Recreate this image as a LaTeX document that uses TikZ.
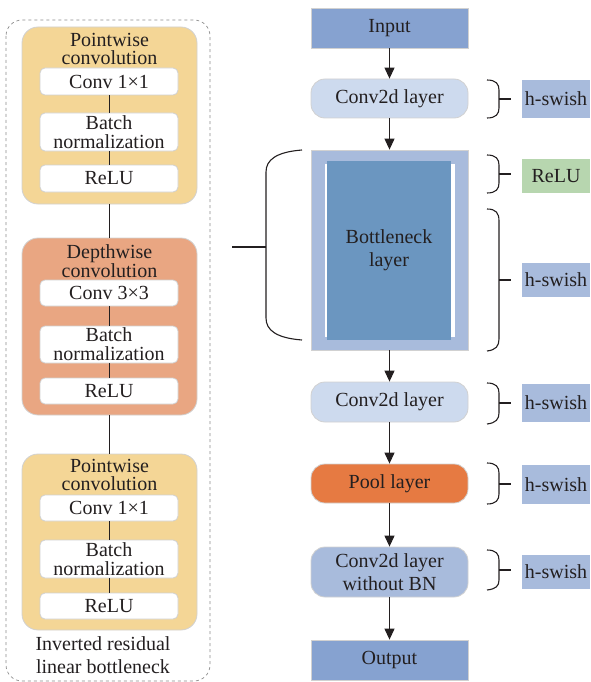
\documentclass[tikz,border=0pt]{standalone}
\usepackage{fontspec}
\setmainfont{Liberation Serif}
\usepackage{xcolor}
\usepackage{tikz}
\usetikzlibrary{arrows.meta}

\definecolor{inktxt}{RGB}{35,31,32}
\definecolor{pwfill}{RGB}{244,214,150}
\definecolor{dwfill}{RGB}{233,166,130}
\definecolor{iofill}{RGB}{134,162,208}
\definecolor{cvfill}{RGB}{205,218,238}
\definecolor{bnfill}{RGB}{168,187,220}
\definecolor{corefill}{RGB}{107,150,192}
\definecolor{poolfill}{RGB}{230,122,66}
\definecolor{relufill}{RGB}{183,214,175}

\begin{document}
\begin{tikzpicture}[x=1pt, y=-1pt, font=\fontsize{20}{23}\selectfont,
  txt/.style={text=inktxt, inner sep=0pt, align=center},
  outerbox/.style={txt, draw=black!18, line width=0.8pt, rounded corners=16pt,
    minimum width=175pt, minimum height=177pt},
  subbox/.style={txt, draw=black!18, line width=0.8pt, fill=white, rounded corners=5pt,
    minimum width=138pt, font=\fontsize{20}{19}\selectfont},
  layerbox/.style={txt, draw=black!18, line width=0.8pt, minimum width=157pt, minimum height=40pt},
  pillbox/.style={layerbox, rounded corners=14pt},
  actbox/.style={txt, minimum width=68pt},
  wire/.style={line width=0.85pt, draw=inktxt},
  brc/.style={line width=1.1pt, draw=inktxt},
  flow/.style={line width=1.1pt, draw=inktxt, -{Triangle[length=11pt,width=10pt]}}]
  \useasboundingbox (0,0) rectangle (590,682);

  % inverted residual block (left)
  \draw[dashed, draw=black!45, line width=0.7pt, rounded corners=16pt] (6,20) rectangle (210,681);

  \node[outerbox, fill=pwfill] (pwa) at (109.5,115.5) {};
  \node[txt, font=\fontsize{20}{18}\selectfont] (pwat) at (109.5,49) {Pointwise\\convolution};
  \node[subbox, minimum height=27pt] (pwac) at (109,81.5) {Conv 1×1};
  \node[subbox, minimum height=38pt] (pwab) at (109,132) {Batch\\normalization};
  \node[subbox, minimum height=27pt] (pwar) at (109,178.5) {ReLU};

  \node[outerbox, fill=dwfill] (dw) at (109.5,326.5) {};
  \node[txt, font=\fontsize{20}{18}\selectfont] (dwt) at (109.5,261) {Depthwise\\convolution};
  \node[subbox, minimum height=26pt] (dwc) at (109,293) {Conv 3×3};
  \node[subbox, minimum height=37pt] (dwb) at (109,344.5) {Batch\\normalization};
  \node[subbox, minimum height=26pt] (dwr) at (109,391) {ReLU};

  \node[outerbox, fill=pwfill, minimum height=176pt] (pwb) at (109.5,542) {};
  \node[txt, font=\fontsize{20}{18}\selectfont] (pwbt) at (109.5,475) {Pointwise\\convolution};
  \node[subbox, minimum height=26pt] (pwbc) at (109,508) {Conv 1×1};
  \node[subbox, minimum height=38pt] (pwbb) at (109,559) {Batch\\normalization};
  \node[subbox, minimum height=26pt] (pwbr) at (109,606) {ReLU};

  \node[txt] (cap) at (103,655) {Inverted residual\\linear bottleneck};

  \draw[wire] (pwac.south) -- (pwab.north);
  \draw[wire] (pwab.south) -- (pwar.north);
  \draw[wire] (pwa.south) -- (dw.north);
  \draw[wire] (dwc.south) -- (dwb.north);
  \draw[wire] (dwb.south) -- (dwr.north);
  \draw[wire] (dw.south) -- (pwb.north);
  \draw[wire] (pwbc.south) -- (pwbb.north);
  \draw[wire] (pwbb.south) -- (pwbr.north);

  % main network (right)
  \node[layerbox, fill=iofill] (inp) at (389.5,28) {Input};
  \node[pillbox, fill=cvfill, minimum height=39pt] (cva) at (389.5,98.5) {Conv2d layer};
  \node[layerbox, fill=bnfill, minimum height=200pt] (bn) at (389.5,250) {};
  \fill[white] (325,164) rectangle (455,337);
  \node[txt, fill=corefill, minimum width=124pt, minimum height=179pt] (bncore) at (389,250.5) {Bottleneck\\layer};
  \node[pillbox, fill=cvfill] (cvb) at (389.5,402) {Conv2d layer};
  \node[pillbox, fill=poolfill, minimum height=39pt] (pool) at (389.5,483.5) {Pool layer};
  \node[pillbox, fill=bnfill, minimum height=50pt] (cvc) at (389.5,572) {Conv2d layer\\without BN};
  \node[layerbox, fill=iofill] (outp) at (389.5,660) {Output};

  \draw[flow] (inp.south) -- (cva.north);
  \draw[flow] (cva.south) -- (bn.north);
  \draw[flow] (bn.south) -- (cvb.north);
  \draw[flow] (cvb.south) -- (pool.north);
  \draw[flow] (pool.south) -- (cvc.north);
  \draw[flow] (cvc.south) -- (outp.north);

  % activation labels
  \node[actbox, fill=bnfill, minimum height=38pt] (hsa) at (556,99) {h-swish};
  \node[actbox, fill=relufill, minimum height=34pt] (rl) at (556,176) {ReLU};
  \node[actbox, fill=bnfill, minimum height=34pt] (hsb) at (556,280) {h-swish};
  \node[actbox, fill=bnfill, minimum height=38pt] (hsc) at (556,403) {h-swish};
  \node[actbox, fill=bnfill, minimum height=39pt] (hsd) at (556,484.5) {h-swish};
  \node[actbox, fill=bnfill, minimum height=34pt] (hse) at (556,572) {h-swish};

  % braces
  \draw[brc] (302,150) .. controls (276,152) and (266,160) .. (266,172) -- (266,318)
    .. controls (266,330) and (276,338) .. (302,340);
  \draw[brc] (232,247) -- (266,247);

  \draw[brc] (487,80) .. controls (496,80) and (499,84) .. (499,90) -- (499,108)
    .. controls (499,114) and (496,118) .. (487,118);
  \draw[brc] (499,99) -- (511,99);
  \draw[brc] (487,155) .. controls (496,155) and (499,159) .. (499,165) -- (499,183)
    .. controls (499,189) and (496,193) .. (487,193);
  \draw[brc] (499,174) -- (511,174);
  \draw[brc] (487,209) .. controls (496,209) and (499,213) .. (499,221) -- (499,339)
    .. controls (499,346) and (496,350) .. (487,351);
  \draw[brc] (499,280) -- (511,280);
  \draw[brc] (487,383) .. controls (496,383) and (499,387) .. (499,393) -- (499,413)
    .. controls (499,419) and (496,423) .. (487,424);
  \draw[brc] (499,403) -- (511,403);
  \draw[brc] (487,463) .. controls (496,463) and (499,467) .. (499,473) -- (499,494)
    .. controls (499,500) and (496,504) .. (487,504);
  \draw[brc] (499,484) -- (511,484);
  \draw[brc] (487,550) .. controls (496,550) and (499,554) .. (499,560) -- (499,580)
    .. controls (499,586) and (496,589) .. (487,590);
  \draw[brc] (499,570) -- (511,570);
\end{tikzpicture}
\end{document}
